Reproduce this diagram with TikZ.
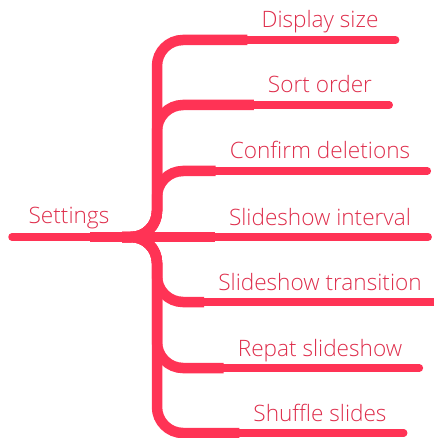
\documentclass[tikz,border=0pt]{standalone}
\usepackage{fontspec}
\setmainfont{Open Sans Light}
\definecolor{branchred}{RGB}{255,51,85}
\definecolor{labelred}{RGB}{222,45,75}
\begin{document}
\begin{tikzpicture}[x=1pt,y=-1pt,
	topic/.style={anchor=base,inner sep=0pt,text=labelred,font=\fontsize{22.6}{26}\selectfont},
	thickline/.style={draw=branchred,line width=10.5pt,rounded corners=26pt},
	thinline/.style={draw=branchred,line width=7.5pt,line cap=round}]
	\useasboundingbox (0,0) rectangle (433,438);

	% root
	\node[topic] (root) at (69,223) {Settings};
	\coordinate (r-in) at (12,237);
	\coordinate (r-mid) at (90,237);
	\coordinate (jn) at (122,237);
	\coordinate (trunk) at (157,237);
	\draw[thinline] (r-in) -- (r-mid);
	\draw[thickline] (r-mid) -- (trunk);

	% topics
	\node[topic] (disp) at (320,28) {Display size};
	\node[topic] (sort) at (320,93) {Sort order};
	\node[topic] (conf) at (320,159) {Confirm deletions};
	\node[topic] (intv) at (320,225) {Slideshow interval};
	\node[topic] (tran) at (320,290) {Slideshow transition};
	\node[topic] (rept) at (320,356) {Repat slideshow};
	\node[topic] (shuf) at (320,421) {Shuffle slides};

	%%% underlines
	\foreach \t in {disp,sort,conf,intv,tran,rept,shuf}{
		\coordinate (\t-in) at ([shift={(-14pt,-12pt)}]\t.base west);
		\coordinate (\t-out) at ([shift={(17pt,-12pt)}]\t.base east);
		\draw[thinline] (\t-in) -- (\t-out);
	}

	%%% branches
	\draw[thickline] (jn) -| (trunk |- disp-in) -- (disp-in);
	\draw[thickline] (jn) -| (trunk |- sort-in) -- (sort-in);
	\draw[thickline] (jn) -| (trunk |- conf-in) -- (conf-in);
	\draw[thickline] (trunk) -- (intv-in);
	\draw[thickline] (jn) -| (trunk |- tran-in) -- (tran-in);
	\draw[thickline] (jn) -| (trunk |- rept-in) -- (rept-in);
	\draw[thickline] (jn) -| (trunk |- shuf-in) -- (shuf-in);
\end{tikzpicture}
\end{document}
